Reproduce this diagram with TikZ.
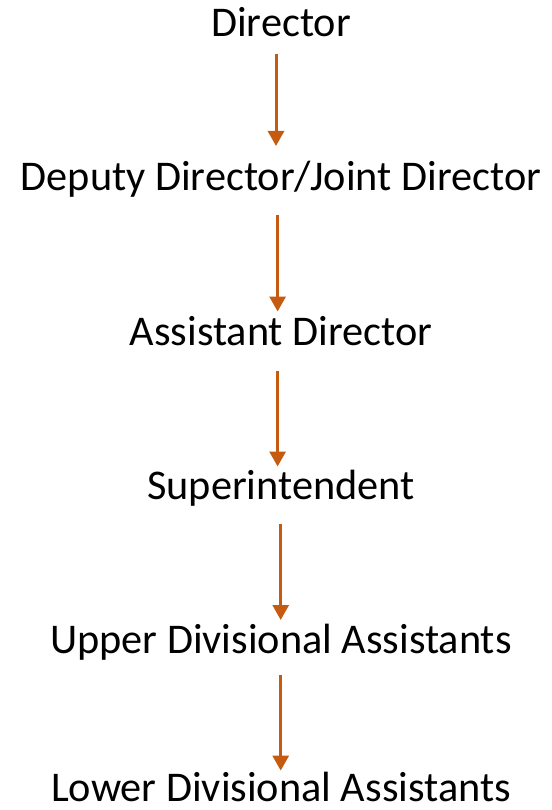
\documentclass[tikz,border=0pt]{standalone}
\usepackage{fontspec}
\setmainfont{Carlito}
\usetikzlibrary{arrows.meta}
\definecolor{arrowc}{HTML}{C55A11}
\tikzset{
  lbl/.style={anchor=base, inner sep=0pt, font=\fontsize{42.3}{50}\selectfont, text=black},
  arr/.style={draw=arrowc, line width=3pt, -{Triangle[width=16pt,length=15pt]}}
}
\begin{document}
\begin{tikzpicture}[x=1pt,y=-1pt]
\useasboundingbox (0,0) rectangle (551,810);
\node[lbl] (a) at (281,37) {Director};
\node[lbl] (b) at (281,191) {Deputy Director/Joint Director};
\node[lbl] (c) at (281,345) {Assistant Director};
\node[lbl] (d) at (281,499) {Superintendent};
\node[lbl] (e) at (281,653) {Upper Divisional Assistants};
\node[lbl] (f) at (281,801) {Lower Divisional Assistants};
\draw[arr] ([xshift=-5pt,yshift=-17pt]a.base) -- ([xshift=-5pt,yshift=45pt]b.base);
\draw[arr] ([xshift=-3.4pt,yshift=-24pt]b.base) -- ([xshift=-3.4pt,yshift=33.5pt]c.base);
\draw[arr] ([xshift=-3.4pt,yshift=-26pt]c.base) -- ([xshift=-3.4pt,yshift=32.5pt]d.base);
\draw[arr] ([xshift=-0.3pt,yshift=-25pt]d.base) -- ([xshift=-0.3pt,yshift=33pt]e.base);
\draw[arr] ([xshift=-0.3pt,yshift=-22pt]e.base) -- ([xshift=-0.3pt,yshift=30.4pt]f.base);
\end{tikzpicture}
\end{document}
